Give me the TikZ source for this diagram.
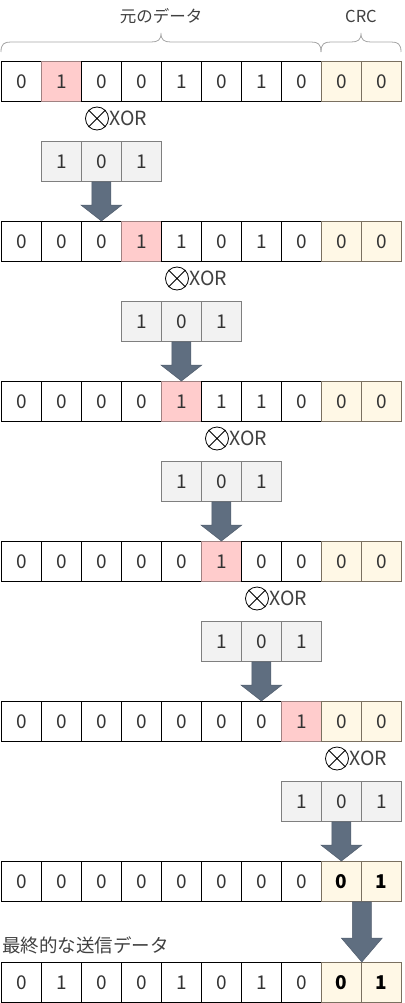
\documentclass[tikz,border=0pt]{standalone}
\usepackage{fontspec}
\setmainfont{Noto Sans CJK JP}
\usetikzlibrary{calc}
\definecolor{pinkc}{HTML}{FFCCCC}
\definecolor{pinkd}{HTML}{A08282}
\definecolor{crcc}{HTML}{FFF8E6}
\definecolor{crcd}{HTML}{7A7060}
\definecolor{divc}{HTML}{F2F2F2}
\definecolor{divd}{HTML}{7F7F7F}
\definecolor{arrc}{HTML}{5F6E80}
\definecolor{txt}{HTML}{333333}
\definecolor{lbl}{HTML}{404040}
\definecolor{brc}{HTML}{A6A6A6}
\tikzset{
  cell/.style={draw=black, line width=0.8pt, minimum width=40pt, minimum height=40pt,
    inner sep=0pt, anchor=north west, text=txt, font=\fontsize{19}{19}\selectfont},
  plain/.style={},
  hot/.style={fill=pinkc, draw=pinkd},
  crc/.style={fill=crcc, draw=crcd},
  crcb/.style={fill=crcc, draw=crcd, text=black, font=\fontsize{19}{19}\selectfont\bfseries},
  divcell/.style={cell, fill=divc, draw=divd},
  arr/.style={fill=arrc, draw=arrc!85!black, line width=0.5pt},
  xorc/.style={circle, draw=black, line width=0.8pt, minimum size=23pt, inner sep=0pt},
  xort/.style={anchor=west, inner sep=0pt, text=lbl, font=\fontsize{19.5}{19.5}\selectfont},
  toplbl/.style={inner sep=0pt, text=lbl, font=\fontsize{16.5}{16.5}\selectfont},
  bigl/.style={inner sep=0pt, anchor=west, text=lbl, font=\fontsize{18.5}{18.5}\selectfont},
  brace/.style={draw=brc, line width=0.8pt}
}
\newcommand\bitrow[3]{%
  \foreach \v/\s [count=\i from 0] in {#3} {
    \node[cell, \s] (#1c\i) at (1+40*\i, #2) {\v};
  }}
\newcommand\divrow[3]{%
  \foreach \v [count=\i from 0] in {1,0,1} {
    \node[divcell] (#1c\i) at (#2+40*\i, #3) {\v};
  }}
\newcommand\xorsym[3]{%
  \node[xorc] (#1) at (#2,#3) {};
  \draw[line width=0.8pt] (#1.north west) -- (#1.south east) (#1.north east) -- (#1.south west);
  \node[xort] (#1t) at ($(#1.east)+(0.5,0)$) {XOR};}
\newcommand\blockarrow[3]{%
  \path[arr] ($(#1)+(-9.5,0)$) -- ($(#2)+(-9.5,-#3)$) -- ($(#2)+(-20.5,-#3)$) -- (#2)
    -- ($(#2)+(20.5,-#3)$) -- ($(#2)+(9.5,-#3)$) -- ($(#1)+(9.5,0)$) -- cycle;}
\begin{document}
\begin{tikzpicture}[x=1pt,y=-1pt]
\useasboundingbox (0,0) rectangle (404,1003);
% braces
\draw[brace] (1,52) .. controls (1,44) and (4,42) .. (11,42) -- (151,42)
  .. controls (158,42) and (161,40) .. (161,33) .. controls (161,40) and (164,42) .. (171,42)
  -- (311,42) .. controls (318,42) and (321,44) .. (321,52);
\draw[brace] (321,52) .. controls (321,44) and (324,42) .. (331,42) -- (351,42)
  .. controls (358,42) and (361,40) .. (361,33) .. controls (361,40) and (364,42) .. (371,42)
  -- (391,42) .. controls (398,42) and (401,44) .. (401,52);
\node[toplbl] (lorig) at (161,16.5) {元のデータ};
\node[toplbl] (lcrc) at (361,16.5) {CRC};
% rows
\bitrow{r1}{61}{0/plain,1/hot,0/plain,0/plain,1/plain,0/plain,1/plain,0/plain,0/crc,0/crc}
\bitrow{r2}{221}{0/plain,0/plain,0/plain,1/hot,1/plain,0/plain,1/plain,0/plain,0/crc,0/crc}
\bitrow{r3}{381}{0/plain,0/plain,0/plain,0/plain,1/hot,1/plain,1/plain,0/plain,0/crc,0/crc}
\bitrow{r4}{541}{0/plain,0/plain,0/plain,0/plain,0/plain,1/hot,0/plain,0/plain,0/crc,0/crc}
\bitrow{r5}{701}{0/plain,0/plain,0/plain,0/plain,0/plain,0/plain,0/plain,1/hot,0/crc,0/crc}
\bitrow{r6}{861}{0/plain,0/plain,0/plain,0/plain,0/plain,0/plain,0/plain,0/plain,0/crcb,1/crcb}
\bitrow{r7}{962}{0/plain,1/plain,0/plain,0/plain,1/plain,0/plain,1/plain,0/plain,0/crcb,1/crcb}
% divisors
\divrow{d1}{41}{141}
\divrow{d2}{121}{301}
\divrow{d3}{161}{461}
\divrow{d4}{201}{621}
\divrow{d5}{281}{781}
% xor symbols
\xorsym{x1}{97}{118.5}
\xorsym{x2}{177}{278.5}
\xorsym{x3}{217}{438.5}
\xorsym{x4}{257}{598.5}
\xorsym{x5}{337}{758.5}
% arrows
\blockarrow{d1c1.south}{r2c2.north}{16}
\blockarrow{d2c1.south}{r3c4.north}{16}
\blockarrow{d3c1.south}{r4c5.north}{16}
\blockarrow{d4c1.south}{r5c6.north}{16}
\blockarrow{d5c1.south}{r6c8.north}{16}
\blockarrow{r6c8.south east}{r7c8.north east}{24}
% final label
\node[bigl] (lfinal) at (2,945) {最終的な送信データ};
\end{tikzpicture}
\end{document}
